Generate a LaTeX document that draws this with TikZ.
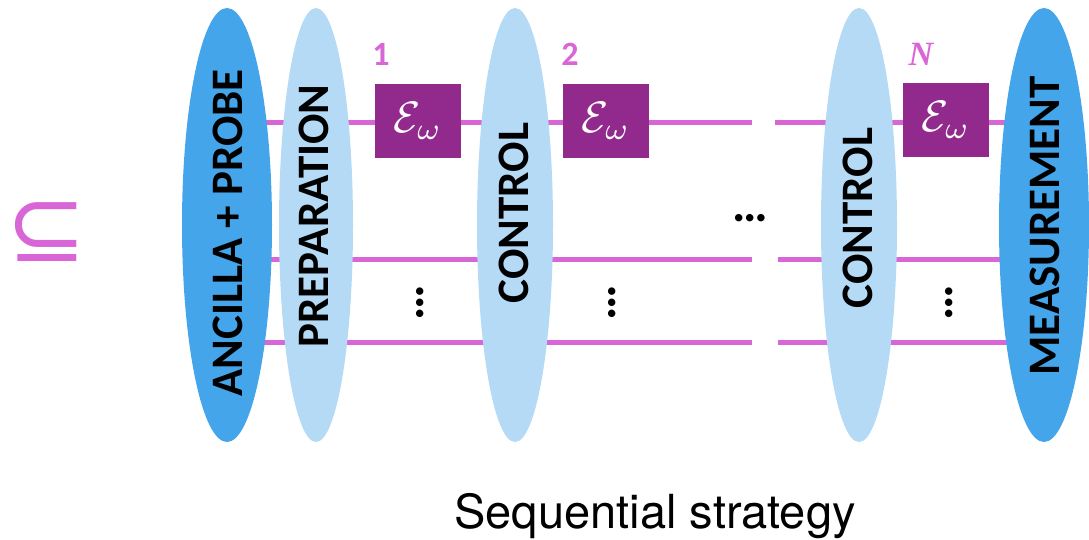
\documentclass[tikz,border=0pt]{standalone}
\usepackage{graphicx}
\usepackage{fontspec}
\usetikzlibrary{shapes.geometric}
\newfontfamily\labelfont{Carlito}
\newfontfamily\captionfont{TeX Gyre Heros}
\newfontfamily\symbolfont{DejaVu Sans}
\newfontfamily\countfont{Liberation Serif}
\definecolor{stagedark}{HTML}{45A5EA}
\definecolor{stagelight}{HTML}{B4DAF6}
\definecolor{wirecol}{HTML}{D966D6}
\definecolor{chancol}{HTML}{912A8C}
\newcommand{\chansym}{\scalebox{4.4}{$\mathcal{E}_\omega$}}
\pgfdeclarelayer{wires}
\pgfsetlayers{wires,main}
\tikzset{
  stage/.style={ellipse, draw=none, inner sep=0pt, minimum height=434pt},
  outerstage/.style={stage, fill=stagedark, minimum width=90pt},
  innerstage/.style={stage, fill=stagelight, minimum width=76pt},
  stagelabel/.style={rotate=90, inner sep=0pt, font=\labelfont\bfseries\fontsize{45}{45}\selectfont, text=black},
  wire/.style={draw=wirecol, line width=5pt},
  channel/.style={rectangle, fill=chancol, minimum width=86pt, minimum height=74pt, inner sep=0pt,
    text=white},
  uselabel/.style={inner sep=0pt, text=wirecol, font=\labelfont\bfseries\fontsize{34}{34}\selectfont},
  dots/.style={inner sep=0pt, font=\labelfont\bfseries\fontsize{50}{50}\selectfont},
}
\begin{document}
\begin{tikzpicture}[x=1pt, y=-1pt]
\useasboundingbox (0,0) rectangle (1089,539);

% inclusion sign
\node[inner sep=0pt, text=wirecol, font=\symbolfont\fontsize{96}{96}\selectfont] (incl) at (47,232) {⊆};

% stages of the sequential protocol
\node[outerstage] (anc) at (227,225) {};
\node[innerstage, minimum width=74pt] (prep) at (316,225) {};
\node[innerstage] (ctrla) at (515,225) {};
\node[innerstage] (ctrlb) at (859,225) {};
\node[outerstage] (meas) at (1044,225) {};

\node[stagelabel] (ancl) at (228,233) {ANCILLA + PROBE};
\node[stagelabel] (prepl) at (314,216) {PREPARATION};
\node[stagelabel] (ctrlal) at (514,213) {CONTROL};
\node[stagelabel] (ctrlbl) at (858,218) {CONTROL};
\node[stagelabel] (measl) at (1045,226) {MEASUREMENT};

% uses of the channel
\node[channel] (ch1) at (418,121) {\chansym};
\node[channel] (ch2) at (606,121) {\chansym};
\node[channel] (chN) at (946,120) {\chansym};

\node[uselabel] (n1) at (381,54) {1};
\node[uselabel] (n2) at (570,54) {2};
\node[inner sep=0pt, text=wirecol, font=\countfont\bfseries\itshape\fontsize{34}{34}\selectfont] (nN) at (921,54) {N};

% break in the wires
\coordinate (t1) at (752,122);
\coordinate (t2) at (775,122);
\coordinate (m1) at (752,259);
\coordinate (m2) at (778,259);
\coordinate (b1) at (752,342);
\coordinate (b2) at (778,342);

\begin{pgfonlayer}{wires}
  \draw[wire] (anc.center |- t1) -- (t1);
  \draw[wire] (t2) -- (meas.center |- t2);
  \draw[wire] (anc.center |- m1) -- (m1);
  \draw[wire] (m2) -- (meas.center |- m2);
  \draw[wire] (anc.center |- b1) -- (b1);
  \draw[wire] (b2) -- (meas.center |- b2);
\end{pgfonlayer}

% omitted wires and steps
\node[dots] (hd) at (750,218) {…};
\node[dots, rotate=90] (vd1) at (420,303) {…};
\node[dots, rotate=90] (vd2) at (612,303) {…};
\node[dots, rotate=90] (vd3) at (949,303) {…};

\node[anchor=base, inner sep=0pt, font=\captionfont\fontsize{47}{47}\selectfont] (cap) at (655,528) {Sequential strategy};
\end{tikzpicture}
\end{document}
